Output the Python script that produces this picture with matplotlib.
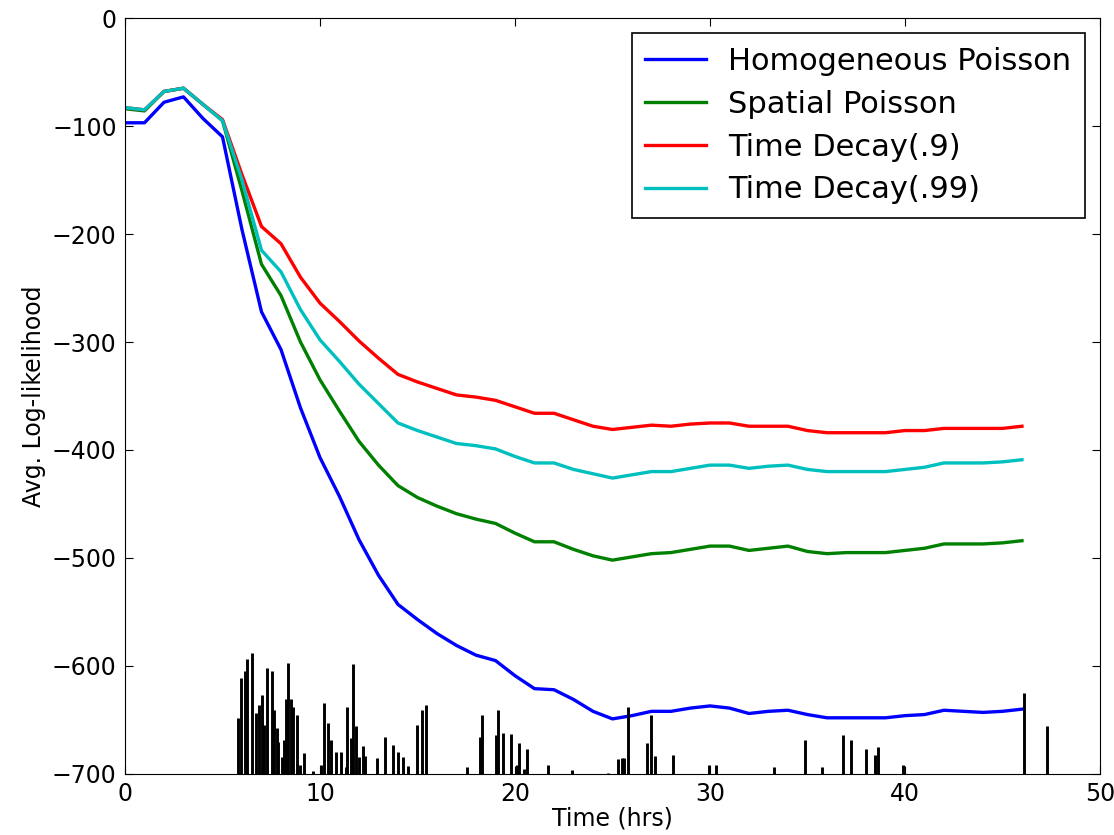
import numpy as np
import matplotlib
matplotlib.use("Agg")
import matplotlib.pyplot as plt


# ============================================================
# DATA
# ============================================================

hours = list(range(47))

homogeneous = [-97, -97, -78, -73, -93, -110, -196, -272, -307, -361,
               -407, -443, -483, -516, -543, -557, -570, -581, -590, -595,
               -609, -621, -622, -631, -642, -649, -646, -642, -642, -639,
               -637, -639, -644, -642, -641, -645, -648, -648, -648, -648,
               -646, -645, -641, -642, -643, -642, -640]

spatial = [-84, -86, -68, -65, -80, -95, -160, -228, -257, -300,
           -335, -364, -392, -414, -433, -444, -452, -459, -464, -468,
           -477, -485, -485, -492, -498, -502, -499, -496, -495, -492,
           -489, -489, -493, -491, -489, -494, -496, -495, -495, -495,
           -493, -491, -487, -487, -487, -486, -484]

decay_09 = [-83, -85, -68, -65, -80, -94, -145, -193, -209, -240,
            -264, -281, -299, -315, -330, -337, -343, -349, -351, -354,
            -360, -366, -366, -372, -378, -381, -379, -377, -378, -376,
            -375, -375, -378, -378, -378, -382, -384, -384, -384, -384,
            -382, -382, -380, -380, -380, -380, -378]

decay_099 = [-83, -85, -68, -65, -80, -95, -150, -215, -235, -270,
             -298, -318, -339, -357, -375, -382, -388, -394, -396, -399,
             -406, -412, -412, -418, -422, -426, -423, -420, -420, -417,
             -414, -414, -417, -415, -414, -418, -420, -420, -420, -420,
             -418, -416, -412, -412, -412, -411, -409]

# event spikes: time (hrs) and top value
event_times = [5.79, 5.95, 6.15, 6.26, 6.51, 6.72, 6.87, 7.03, 7.13, 7.28,
               7.54, 7.64, 7.79, 7.85, 8.05, 8.15, 8.26, 8.36, 8.51, 8.62,
               8.82, 8.97, 9.18, 9.64, 10.05, 10.21, 10.41, 10.56, 10.82, 11.08,
               11.33, 11.38, 11.59, 11.69, 11.85, 12.0, 12.21, 12.31, 12.92, 13.33,
               13.74, 14.0, 14.26, 14.51, 14.97, 15.23, 15.44, 17.54, 18.21, 18.31,
               19.03, 19.13, 19.38, 19.79, 20.1, 20.21, 20.46, 20.62, 21.69, 22.92,
               24.77, 25.28, 25.49, 25.59, 25.79, 26.77, 26.97, 27.18, 28.1, 29.95,
               30.31, 33.28, 34.87, 35.74, 36.82, 37.23, 38.0, 38.46, 38.62, 39.9,
               46.1, 47.28]
event_tops = [-648, -611, -605, -594, -588, -644, -636, -627, -655, -602,
              -605, -641, -657, -670, -684, -669, -631, -597, -631, -638,
              -645, -692, -681, -697, -692, -634, -653, -669, -680, -680,
              -694, -638, -667, -598, -656, -684, -674, -683, -685, -666,
              -673, -680, -684, -693, -655, -641, -636, -694, -666, -645,
              -664, -641, -662, -663, -692, -671, -695, -677, -692, -696,
              -699, -686, -685, -685, -638, -671, -645, -683, -682, -692,
              -692, -694, -669, -694, -664, -669, -677, -682, -675, -692,
              -625, -656]


# ============================================================
# PLOT
# ============================================================

plt.rcParams["font.family"] = "DejaVu Sans"

fig = plt.figure(figsize=(11.14, 8.35), dpi=100)
ax = fig.add_axes([0.1122, 0.0731, 0.8752, 0.9053])

ax.plot(hours, homogeneous, color="#0000ff", linewidth=2.4, label="Homogeneous Poisson")
ax.plot(hours, spatial, color="#008000", linewidth=2.4, label="Spatial Poisson")
ax.plot(hours, decay_09, color="#ff0000", linewidth=2.4, label="Time Decay(.9)")
ax.plot(hours, decay_099, color="#00bfbf", linewidth=2.4, label="Time Decay(.99)")

ax.vlines(event_times, -700, event_tops, color="black", linewidth=2.1, zorder=3)

ax.set_xlim(0, 50)
ax.set_ylim(-700, 0)
ax.set_xticks(np.arange(0, 51, 10))
ax.set_yticks(np.arange(-700, 1, 100))
ax.tick_params(direction="in", top=True, right=True, length=6, labelsize=17, pad=6)
ax.set_xlabel("Time (hrs)", fontsize=17, labelpad=0)
ax.set_ylabel("Avg. Log-likelihood", fontsize=17, labelpad=4)

leg = ax.legend(loc="upper right", fontsize=22, fancybox=False, framealpha=1,
                borderaxespad=0.5, handlelength=2.0, handletextpad=0.7,
                labelspacing=0.45, borderpad=0.45)
leg.get_frame().set_edgecolor("black")
leg.get_frame().set_linewidth(1.2)

fig.savefig("out.png", dpi=100)
